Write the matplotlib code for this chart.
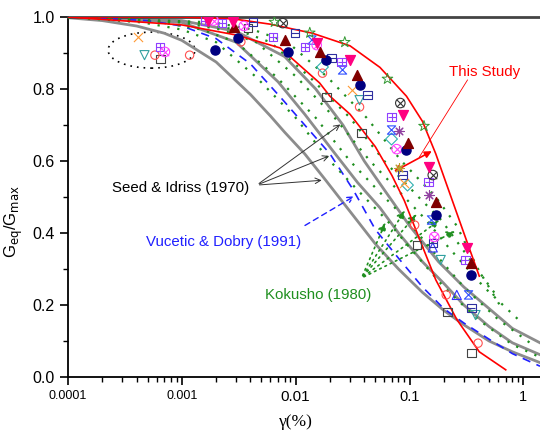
import matplotlib
matplotlib.use("Agg")
import matplotlib.pyplot as plt
from matplotlib.path import Path
from matplotlib.patches import Ellipse

plt.rcParams["font.family"] = ["Liberation Sans", "DejaVu Sans"]

# ---- reference curves ----
seed_lo_x = [1e-4, 2e-4, 4e-4, 7e-4, 1e-3, 2e-3, 4e-3, 6e-3, 8e-3, 0.012, 0.018, 0.03, 0.05, 0.08, 0.13, 0.2, 0.3, 0.5, 0.8, 1.4]
seed_lo_y = [0.998, 0.99, 0.975, 0.955, 0.935, 0.875, 0.785, 0.725, 0.68, 0.62, 0.55, 0.46, 0.37, 0.3, 0.235, 0.185, 0.145, 0.1, 0.07, 0.04]
seed_mid_x = [1e-4, 1e-3, 3e-3, 7e-3, 0.012, 0.021, 0.035, 0.055, 0.08, 0.13, 0.2, 0.3, 0.5, 0.8, 1.4]
seed_mid_y = [1.0, 0.985, 0.93, 0.82, 0.73, 0.63, 0.54, 0.47, 0.4, 0.32, 0.26, 0.2, 0.14, 0.095, 0.062]
seed_hi_x = [1e-4, 1e-3, 3e-3, 8e-3, 0.015, 0.026, 0.04, 0.06, 0.1, 0.18, 0.3, 0.5, 0.8, 1.4]
seed_hi_y = [1.0, 0.99, 0.96, 0.89, 0.8, 0.7, 0.6, 0.52, 0.42, 0.32, 0.25, 0.19, 0.135, 0.095]

vd_x = [1e-4, 5e-4, 1e-3, 2e-3, 4e-3, 7.7e-3, 0.012, 0.02, 0.032, 0.05, 0.08, 0.13, 0.2, 0.3, 0.5, 0.8, 1.4]
vd_y = [1.0, 0.99, 0.975, 0.94, 0.87, 0.77, 0.7, 0.62, 0.52, 0.41, 0.33, 0.25, 0.19, 0.15, 0.105, 0.065, 0.03]

kok1_x = [1e-4, 4.5e-4, 1e-3, 2e-3, 4.5e-3, 0.01, 0.02, 0.04, 0.063, 0.1, 0.2, 0.4, 0.8, 1.4]
kok1_y = [1.0, 0.985, 0.965, 0.93, 0.833, 0.72, 0.6, 0.5, 0.436, 0.36, 0.25, 0.16, 0.09, 0.055]
kok2_x = [1e-4, 6.8e-4, 1.5e-3, 3e-3, 6.8e-3, 0.015, 0.03, 0.06, 0.095, 0.15, 0.3, 0.6, 1.2]
kok2_y = [1.0, 0.985, 0.965, 0.93, 0.833, 0.72, 0.6, 0.5, 0.436, 0.36, 0.25, 0.16, 0.09]
kok3_x = [1e-4, 1e-3, 2.2e-3, 4.5e-3, 0.0102, 0.022, 0.045, 0.09, 0.14, 0.22, 0.45, 0.9]
kok3_y = [1.0, 0.985, 0.965, 0.93, 0.833, 0.72, 0.6, 0.5, 0.436, 0.36, 0.25, 0.16]
kok4_x = [1e-4, 1.3e-3, 3e-3, 6e-3, 0.0133, 0.03, 0.06, 0.12, 0.19, 0.3, 0.6]
kok4_y = [1.0, 0.985, 0.965, 0.93, 0.833, 0.72, 0.6, 0.5, 0.436, 0.35, 0.22]
kok5_x = [1e-4, 1.9e-3, 4.2e-3, 8.5e-3, 0.019, 0.042, 0.085, 0.17, 0.26, 0.4, 0.62]
kok5_y = [1.0, 0.985, 0.965, 0.93, 0.833, 0.72, 0.6, 0.5, 0.42, 0.3, 0.2]

study_hi_x = [1e-4, 1e-3, 2.8e-3, 6e-3, 0.014, 0.03, 0.055, 0.094, 0.13, 0.17, 0.22, 0.3, 0.41]
study_hi_y = [1.0, 1.0, 0.995, 0.98, 0.955, 0.92, 0.86, 0.78, 0.71, 0.62, 0.52, 0.4, 0.28]
study_lo_x = [1e-4, 1e-3, 3e-3, 7.3e-3, 0.0162, 0.02, 0.03, 0.05, 0.07, 0.09, 0.12, 0.17, 0.26, 0.41, 0.7]
study_lo_y = [1.0, 0.978, 0.95, 0.914, 0.817, 0.78, 0.73, 0.64, 0.56, 0.49, 0.39, 0.27, 0.16, 0.07, 0.02]

# ---- measured points ----
navy_x = [0.00195, 0.0031, 0.0085, 0.0183, 0.0364, 0.094, 0.17, 0.35]
navy_y = [0.908, 0.942, 0.903, 0.881, 0.811, 0.631, 0.45, 0.283]
maroon_x = [0.0029, 0.008, 0.0162, 0.0343, 0.0974, 0.17, 0.35]
maroon_y = [0.972, 0.936, 0.903, 0.839, 0.65, 0.486, 0.317]
pink_x = [0.0017, 0.0028, 0.0153, 0.0298, 0.087, 0.149, 0.32]
pink_y = [0.99, 0.986, 0.928, 0.881, 0.728, 0.583, 0.358]
sqplus_x = [0.00064, 0.0016, 0.00224, 0.0063, 0.012, 0.0253, 0.0695, 0.147, 0.31]
sqplus_y = [0.917, 0.99, 0.983, 0.944, 0.917, 0.875, 0.722, 0.542, 0.325]
sqminus_x = [0.0042, 0.0098, 0.0207, 0.0428, 0.087, 0.16, 0.35]
sqminus_y = [0.986, 0.956, 0.886, 0.783, 0.561, 0.372, 0.192]
square_x = [0.00065, 0.0038, 0.0187, 0.0379, 0.116, 0.215, 0.35]
square_y = [0.883, 0.969, 0.778, 0.678, 0.367, 0.181, 0.067]
circle_x = [0.00058, 0.00117, 0.0033, 0.0172, 0.0364, 0.111, 0.21, 0.4]
circle_y = [0.894, 0.894, 0.931, 0.844, 0.75, 0.422, 0.228, 0.094]
bcx_x = [0.0077, 0.083, 0.16]
bcx_y = [0.983, 0.761, 0.561]
star_x = [0.0065, 0.0133, 0.027, 0.064, 0.134]
star_y = [0.986, 0.956, 0.93, 0.828, 0.697]
hour_x = [0.0139, 0.0258, 0.0695, 0.156, 0.33]
hour_y = [0.936, 0.853, 0.686, 0.436, 0.228]
aster_x = [0.0815, 0.149]
aster_y = [0.683, 0.506]
diam_x = [0.0172, 0.0695, 0.096]
diam_y = [0.861, 0.661, 0.533]
mcx_x = [0.00071, 0.0019, 0.0035, 0.0153, 0.077, 0.165]
mcx_y = [0.903, 0.99, 0.975, 0.922, 0.633, 0.389]
tdown_x = [0.00047, 0.0364, 0.188, 0.38]
tdown_y = [0.894, 0.769, 0.325, 0.172]
tup_x = [0.16, 0.26]
tup_y = [0.36, 0.228]
cross_x = [0.00041, 0.031, 0.09]
cross_y = [0.944, 0.797, 0.54]
olive_x = [0.081]
olive_y = [0.58]

hourglass = Path([(-1, 1), (1, 1), (-1, -1), (1, -1), (-1, 1)],
                 [Path.MOVETO, Path.LINETO, Path.LINETO, Path.LINETO, Path.CLOSEPOLY])

fig = plt.figure(figsize=(5.4, 4.32), dpi=100)
ax = fig.add_axes([68 / 540, 55 / 432, 472 / 540, 360 / 432])
ax.set_xscale("log")
ax.set_xlim(1e-4, 1.4)
ax.set_ylim(0, 1.0)

gray = "#8c8c8c"
for xs, ys in [(seed_lo_x, seed_lo_y), (seed_mid_x, seed_mid_y), (seed_hi_x, seed_hi_y)]:
    ax.plot(xs, ys, color=gray, lw=2, zorder=2)
ax.plot(vd_x, vd_y, color="#2020ff", lw=1.2, ls=(0, (5, 4)), zorder=3)
for xs, ys in [(kok1_x, kok1_y), (kok2_x, kok2_y), (kok3_x, kok3_y), (kok4_x, kok4_y), (kok5_x, kok5_y)]:
    ax.plot(xs, ys, color="#1f8f1f", lw=1.6, ls=(0, (1, 3.5)), zorder=3)
ax.plot(study_hi_x, study_hi_y, color="red", lw=1.2, zorder=4)
ax.plot(study_lo_x, study_lo_y, color="red", lw=1.2, zorder=4)

ms = 36
ax.scatter(square_x, square_y, s=ms, marker="s", facecolors="none", edgecolors="#444444", lw=0.8, zorder=5)
ax.scatter(circle_x, circle_y, s=ms, marker="o", facecolors="none", edgecolors="#ff5050", lw=0.8, zorder=5)
ax.scatter(tdown_x, tdown_y, s=ms * 1.2, marker="v", facecolors="none", edgecolors="#30a0a0", lw=0.8, zorder=5)
ax.scatter(tup_x, tup_y, s=ms * 1.2, marker="^", facecolors="none", edgecolors="#3030ff", lw=0.8, zorder=5)
ax.scatter(diam_x, diam_y, s=ms, marker="D", facecolors="none", edgecolors="#30b0b0", lw=0.8, zorder=5)
ax.scatter(hour_x, hour_y, s=ms, marker=hourglass, facecolors="none", edgecolors="#3050ff", lw=0.8, zorder=5)
ax.scatter(sqplus_x, sqplus_y, s=ms, marker="s", facecolors="none", edgecolors="#9040ff", lw=0.8, zorder=5)
ax.scatter(sqplus_x, sqplus_y, s=ms, marker="+", color="#9040ff", lw=0.8, zorder=5)
ax.scatter(sqminus_x, sqminus_y, s=ms, marker="s", facecolors="none", edgecolors="#3030a0", lw=0.8, zorder=5)
ax.scatter(sqminus_x, sqminus_y, s=ms, marker="_", color="#3030a0", lw=0.8, zorder=5)
ax.scatter(mcx_x, mcx_y, s=ms * 1.3, marker="o", facecolors="none", edgecolors="#ff40ff", lw=0.8, zorder=5)
ax.scatter(mcx_x, mcx_y, s=ms * 0.8, marker="x", color="#ff40ff", lw=0.8, zorder=5)
ax.scatter(bcx_x, bcx_y, s=ms * 1.3, marker="o", facecolors="none", edgecolors="#333333", lw=0.8, zorder=5)
ax.scatter(bcx_x, bcx_y, s=ms * 0.8, marker="x", color="#333333", lw=0.8, zorder=5)
ax.scatter(cross_x, cross_y, s=ms * 1.2, marker="x", color="#ff9933", lw=0.8, zorder=5)
ax.scatter(star_x, star_y, s=ms * 1.8, marker="*", facecolors="none", edgecolors="#339933", lw=0.7, zorder=5)
ax.scatter(aster_x, aster_y, s=ms * 1.3, marker=(8, 2, 0), color="#9040a0", lw=0.8, zorder=5)
ax.scatter(olive_x, olive_y, s=ms * 1.3, marker=(8, 2, 0), color="#b8a030", lw=0.8, zorder=5)
ax.scatter(navy_x, navy_y, s=ms * 1.2, marker="o", color="#000080", zorder=6)
ax.scatter(maroon_x, maroon_y, s=ms * 1.4, marker="^", color="#800000", zorder=6)
ax.scatter(pink_x, pink_y, s=ms * 1.4, marker="v", color="#ff0080", zorder=6)

# dotted ellipse around the small-strain points
ax.add_patch(Ellipse((0.177, 0.908), 0.184, 0.1, transform=ax.transAxes,
                     fill=False, ls=(0, (1, 3)), lw=1.2, color="black"))

# annotations
fs = 10.8
ax.text(0.000243, 0.525, "Seed & Idriss (1970)", fontsize=fs, va="center")
for tip in [(0.0258, 0.706), (0.0207, 0.617), (0.0179, 0.547)]:
    ax.annotate("", xy=tip, xytext=(0.00455, 0.533),
                arrowprops=dict(arrowstyle="->", color="#333333", lw=0.7))
ax.text(0.000483, 0.375, "Vucetic & Dobry (1991)", fontsize=fs, va="center", color="#2020ff")
ax.annotate("", xy=(0.0343, 0.506), xytext=(0.0115, 0.417),
            arrowprops=dict(arrowstyle="->", color="#2020ff", lw=1, ls=(0, (4, 3))))
ax.text(0.00535, 0.228, "Kokusho (1980)", fontsize=fs, va="center", color="#1f8f1f")
for tip in [(0.0628, 0.436), (0.094, 0.469), (0.12, 0.458), (0.191, 0.44), (0.264, 0.408)]:
    ax.annotate("", xy=tip, xytext=(0.0379, 0.275),
                arrowprops=dict(arrowstyle="-|>", color="#1f8f1f", lw=1.2, ls=(0, (1, 2.5)),
                                mutation_scale=12))
ax.text(0.224, 0.847, "This Study", fontsize=fs, va="center", color="red")
ax.plot([0.323, 0.122], [0.825, 0.611], color="red", lw=0.6)
ax.annotate("", xy=(0.0695, 0.567), xytext=(0.165, 0.631),
            arrowprops=dict(arrowstyle="<|-|>", color="red", lw=1.2, mutation_scale=10))

# axes styling
ax.spines["right"].set_visible(False)
ax.spines["top"].set_color("#444444")
ax.spines["top"].set_linewidth(2)
ax.spines["left"].set_linewidth(1.3)
ax.spines["bottom"].set_linewidth(1.3)
ax.tick_params(which="major", direction="out", length=6, width=1.2, top=False, right=False)
ax.tick_params(which="minor", direction="out", length=3.5, width=1, top=False, right=False)
ax.set_xticks([1e-4, 1e-3, 1e-2, 1e-1, 1])
ax.set_xticklabels(["0.0001", "0.001", "0.01", "0.1", "1"])
for lab, sz in zip(ax.get_xticklabels(), [9, 9, 11, 10.5, 10.5]):
    lab.set_fontsize(sz)
ax.set_yticks([0, 0.2, 0.4, 0.6, 0.8, 1.0])
ax.set_yticks([0.1, 0.3, 0.5, 0.7, 0.9], minor=True)
ax.set_yticklabels(["0.0", "0.2", "0.4", "0.6", "0.8", "1.0"], fontsize=11.5)

ax.text(-0.114, 0.433, r"G$_{\rm eq}$/G$_{\rm max}$", transform=ax.transAxes, rotation=90,
        ha="center", va="center", fontsize=12)
ax.text(0.483, -0.125, "γ(%)", transform=ax.transAxes, ha="center", va="center",
        fontsize=12.5, family="Liberation Serif")

fig.savefig("out.png", dpi=100)
